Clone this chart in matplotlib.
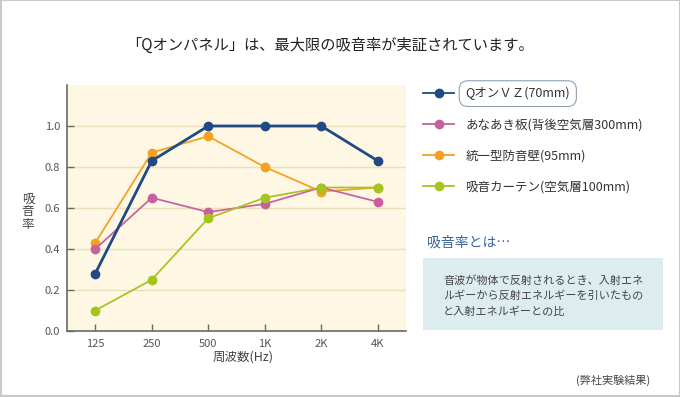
import matplotlib
matplotlib.use("Agg")
import matplotlib.pyplot as plt
from matplotlib.lines import Line2D
from matplotlib.patches import Rectangle

plt.rcParams['font.family'] = ['Noto Sans CJK JP', 'DejaVu Sans']

categories = ["125", "250", "500", "1K", "2K", "4K"]
series_names = ["QオンＶＺ(70mm)", "あなあき板(背後空気層300mm)", "統一型防音壁(95mm)", "吸音カーテン(空気層100mm)"]
q_on_vz = [0.28, 0.83, 1.00, 1.00, 1.00, 0.83]
anaaki = [0.40, 0.65, 0.58, 0.62, 0.70, 0.63]
touitsu = [0.43, 0.87, 0.95, 0.80, 0.68, 0.70]
curtain = [0.10, 0.25, 0.55, 0.65, 0.70, 0.70]
y_ticks = [0.0, 0.2, 0.4, 0.6, 0.8, 1.0]

colors = ["#1F4A85", "#C8609E", "#F5A020", "#A5C41E"]
widths = [2.0, 1.25, 1.25, 1.25]
zorders = [6, 4, 3, 5]

fig = plt.figure(figsize=(6.8, 3.97), dpi=100)
fig.patch.set_facecolor("white")

ax = fig.add_axes([67/680, 1-331/397, (406-67)/680, (331-85)/397])
ax.set_facecolor("#FDF7E3")
x = list(range(len(categories)))
for vals, c, lw, z in zip([q_on_vz, anaaki, touitsu, curtain], colors, widths, zorders):
    ax.plot(x, vals, color=c, lw=lw, marker='o', ms=6, mec=c, mfc=c, zorder=z)

ax.set_xlim(-0.5, len(categories)-0.5)
ax.set_ylim(0, 1.2)
ax.set_xticks(x)
ax.set_xticklabels(categories)
ax.set_yticks(y_ticks)
ax.set_yticklabels([f"{v:.1f}" for v in y_ticks])
ax.yaxis.grid(True, color="#EAE0BE", lw=1)
ax.set_axisbelow(True)
for s in ["top", "right"]:
    ax.spines[s].set_visible(False)
for s in ["left", "bottom"]:
    ax.spines[s].set_color("#6B6A62")
    ax.spines[s].set_linewidth(1.2)
ax.tick_params(direction='in', length=5, width=1, color="#6B6A62",
               labelsize=8, labelcolor="#555555", pad=6)
ax.tick_params(axis='y', pad=5)

fig.text(243/680, 1-357/397, "周波数(Hz)", ha='center', va='center', fontsize=9, color="#444444")
fig.text(28/680, 1-212/397, "吸\n音\n率", ha='center', va='center', fontsize=9,
         color="#444444", linespacing=1.0)

fig.text(330/680, 1-45/397, "「Qオンパネル」は、最大限の吸音率が実証されています。",
         ha='center', va='center', fontsize=11, color="#222222")

handles = [Line2D([], [], color=c, lw=1.3, marker='o', ms=6) for c in colors]
leg = ax.legend(handles, series_names, loc='upper left',
                bbox_to_anchor=(418/680, 1-82/397), bbox_transform=fig.transFigure,
                frameon=False, fontsize=9, handlelength=2.5, handletextpad=0.9,
                labelspacing=1.45, borderaxespad=0)
for t in leg.get_texts():
    t.set_color("#333333")
leg.get_texts()[0].set_bbox(dict(boxstyle='round,pad=0.5,rounding_size=0.7',
                                  fc='white', ec='#8FA0B5', lw=0.8))

fig.text(427/680, 1-242/397, "吸音率とは…", ha='left', va='center', fontsize=10, color="#3A6699")
fig.add_artist(Rectangle((423/680, 1-330/397), (663-423)/680, (330-258)/397,
                         transform=fig.transFigure, fc="#DDECEF", ec='none'))
fig.text(443/680, 1-296/397,
         "音波が物体で反射されるとき、入射エネ\nルギーから反射エネルギーを引いたもの\nと入射エネルギーとの比",
         ha='left', va='center', fontsize=8, color="#444444", linespacing=1.55)
fig.text(650/680, 1-380/397, "(弊社実験結果)", ha='right', va='center', fontsize=8, color="#444444")

fig.add_artist(Rectangle((0.0008, 0.0013), 0.9985, 0.9975, transform=fig.transFigure,
                         fill=False, ec="#C8C8C8", lw=1.5))

fig.savefig("out.png", dpi=100)
